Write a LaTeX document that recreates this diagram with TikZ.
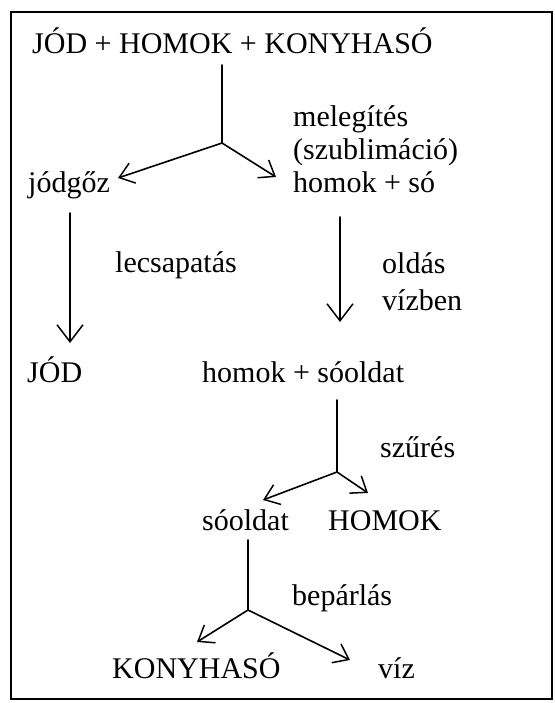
\documentclass[tikz,border=0pt]{standalone}
\usepackage{fontspec}
\setmainfont{Liberation Serif}
\usetikzlibrary{arrows.meta}
\begin{document}
\begin{tikzpicture}[x=1pt,y=-1pt,
  lbl/.style={anchor=base west,inner sep=0pt,font=\fontsize{30}{36}\selectfont},
  flow/.style={line width=1.6pt,line cap=round},
  arr/.style={flow,-{Straight Barb[length=14pt,width=21pt,line width=1.5pt]}},
  downarr/.style={flow,-{Straight Barb[length=17pt,width=26pt,line width=1.5pt]}}]
  \useasboundingbox (0,0) rectangle (554,703);
  \fill[white] (0,0) rectangle (554,703);
  % frame
  \draw[line width=1.7pt] (11,12) rectangle (552,699);

  % texts
  \node[lbl] (mix)   at (32,54)  {JÓD + HOMOK + KONYHASÓ};
  \node[lbl] (heat)  at (293,127) {melegítés};
  \node[lbl] (subl)  at (293,160) {(szublimáció)};
  \node[lbl] (vapor) at (28,193)  {jódgőz};
  \node[lbl] (sand)  at (293,193) {homok + só};
  \node[lbl] (prec)  at (115,272) {lecsapatás};
  \node[lbl] (diss)  at (382,273) {oldás};
  \node[lbl] (water) at (382,310) {vízben};
  \node[lbl] (iod)   at (27,382)  {JÓD};
  \node[lbl] (susp)  at (202,382) {homok + sóoldat};
  \node[lbl] (filt)  at (380,457) {szűrés};
  \node[lbl] (brine) at (202,530) {sóoldat};
  \node[lbl] (sandout) at (328,530) {HOMOK};
  \node[lbl] (evap)  at (292,605) {bepárlás};
  \node[lbl] (salt)  at (112,678) {KONYHASÓ};
  \node[lbl] (h2o)   at (378,678) {víz};

  % junction and arrow-end points
  \coordinate (s1) at (222,65);
  \coordinate (j1) at (222,143);
  \coordinate (t1a) at (118,178);
  \coordinate (t1b) at (276,177);
  \coordinate (s2) at (70,213);
  \coordinate (t2) at (70,343);
  \coordinate (s3) at (340,217);
  \coordinate (t3) at (340,322);
  \coordinate (s4) at (337,400);
  \coordinate (j4) at (337,472);
  \coordinate (t4a) at (263,500);
  \coordinate (t4b) at (368,493);
  \coordinate (s5) at (248,540);
  \coordinate (j5) at (248,610);
  \coordinate (t5a) at (197,642);
  \coordinate (t5b) at (350,660);

  % connectors
  \draw[flow] (s1) -- (j1);
  \draw[arr] (j1) -- (t1a);
  \draw[arr] (j1) -- (t1b);
  \draw[downarr] (s2) -- (t2);
  \draw[downarr] (s3) -- (t3);
  \draw[flow] (s4) -- (j4);
  \draw[arr] (j4) -- (t4a);
  \draw[arr] (j4) -- (t4b);
  \draw[flow] (s5) -- (j5);
  \draw[arr] (j5) -- (t5a);
  \draw[arr] (j5) -- (t5b);
\end{tikzpicture}
\end{document}
